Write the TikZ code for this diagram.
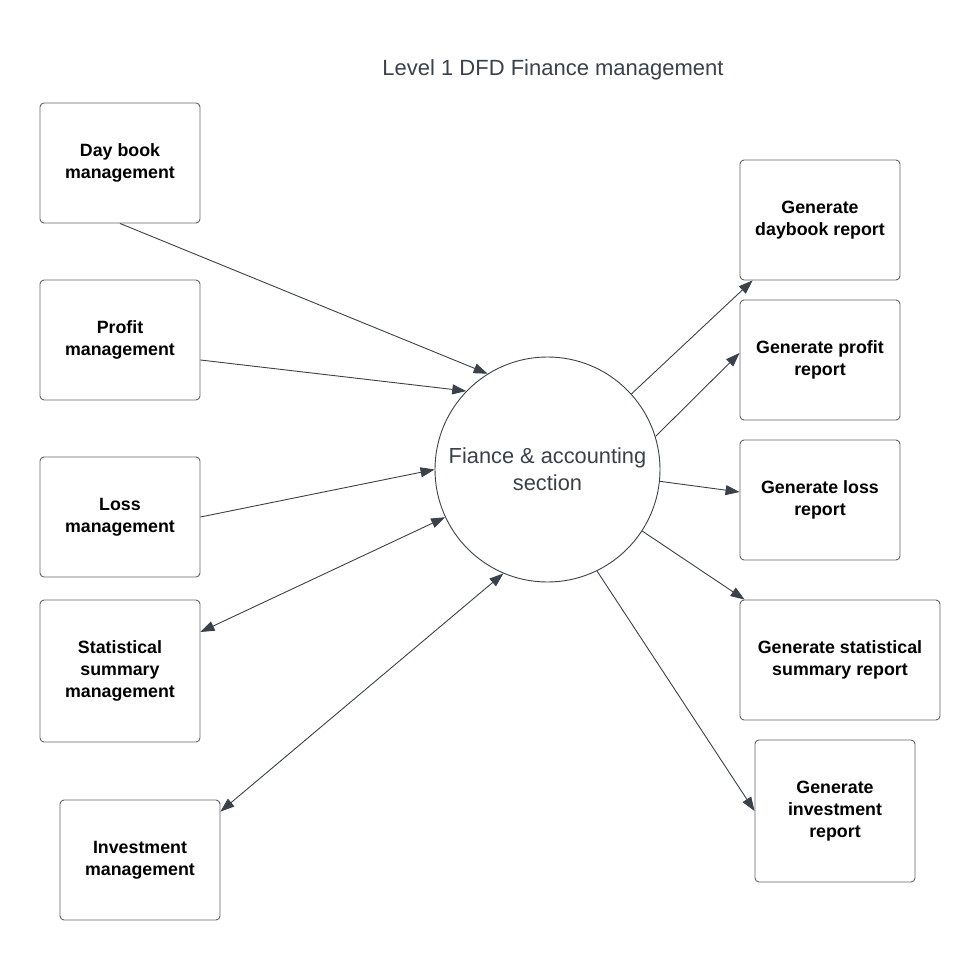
\documentclass[tikz,border=0pt]{standalone}
\usepackage{fontspec}
\setmainfont{Liberation Sans}
\usetikzlibrary{arrows.meta}
\definecolor{ln}{HTML}{3A414A}
\definecolor{bx}{HTML}{60646C}
\tikzset{
  x=1pt,y=-1pt,
  proc/.style={draw=bx,line width=0.9pt,rounded corners=4pt,fill=white,align=center,
    font=\fontsize{17.8}{22}\selectfont\bfseries,text=black,inner sep=0pt},
  flow/.style={draw=ln,line width=0.9pt,-{Triangle[length=14,width=10]}},
  bflow/.style={draw=ln,line width=0.9pt,{Triangle[length=14,width=10]}-{Triangle[length=14,width=10]}}
}
\begin{document}
\begin{tikzpicture}
\useasboundingbox (0,0) rectangle (980,960);
\node[font=\fontsize{22}{26}\selectfont,text=ln] (title) at (553,70) {Level 1 DFD Finance management};
% left boxes
\node[proc,minimum width=160,minimum height=120] (db) at (120,163) {Day book\\management};
\node[proc,minimum width=160,minimum height=120] (pm) at (120,340) {Profit\\management};
\node[proc,minimum width=160,minimum height=120] (lm) at (120,517) {Loss\\management};
\node[proc,minimum width=160,minimum height=142] (sm) at (120,671) {Statistical\\summary\\management};
\node[proc,minimum width=160,minimum height=120] (im) at (140,860) {Investment\\management};
% right boxes
\node[proc,minimum width=160,minimum height=120] (dr) at (820,220) {Generate\\daybook report};
\node[proc,minimum width=160,minimum height=120] (pr) at (820,360) {Generate profit\\report};
\node[proc,minimum width=160,minimum height=120] (lr) at (820,500) {Generate loss\\report};
\node[proc,minimum width=200,minimum height=120] (sr) at (840,660) {Generate statistical\\summary report};
\node[proc,minimum width=160,minimum height=142] (ir) at (835,811) {Generate\\investment\\report};
% centre process
\node[circle,draw=ln,line width=0.9pt,minimum size=225,inner sep=0pt,align=center,
  font=\fontsize{21.8}{27}\selectfont,text=ln] (c) at (547.5,469.5) {Fiance \& accounting\\section};
% flows
\draw[flow] (db.south) -- (c.122.9);
\draw[flow] ([yshift=-20]pm.east) -- (c.136.8);
\draw[flow] (lm.east) -- (c.180.3);
\draw[bflow] ([yshift=39]sm.east) -- (c.205.3);
\draw[bflow] ([yshift=-12]im.north east) -- (c.247.7);
\draw[flow] (c.42.8) -- ([xshift=13]dr.south west);
\draw[flow] (c.17.3) -- ([yshift=7]pr.west);
\draw[flow] (c.-6.9) -- ([yshift=8]lr.west);
\draw[flow] (c.-33.5) -- ([xshift=5]sr.north west);
\draw[flow] (c.-64.7) -- (ir.west);
\end{tikzpicture}
\end{document}
